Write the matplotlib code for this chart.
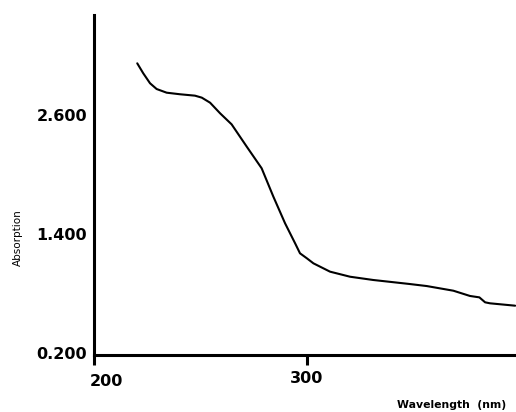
'''
UV-Vis absorption spectrum
'''

import numpy as np
import matplotlib
matplotlib.use('Agg')
import matplotlib.pyplot as plt
import matplotlib.transforms as mtransforms

# Data
wavelength = [220.3, 223.1, 226.3, 229.4, 234.1, 240.4, 247.4, 250.6, 254.5,
              259.2, 264.6, 271.7, 278.7, 284.2, 289.7, 294.4, 296.7, 299.9,
              303.0, 310.8, 320.2, 331.1, 348.0, 356.2, 368.7, 376.5, 380.9,
              383.6, 385.9, 397.7]
absorption = [3.120, 3.020, 2.919, 2.861, 2.824, 2.808, 2.794, 2.774, 2.723,
              2.616, 2.505, 2.280, 2.062, 1.776, 1.507, 1.306, 1.205, 1.155,
              1.104, 1.020, 0.969, 0.936, 0.896, 0.875, 0.828, 0.775, 0.761,
              0.711, 0.701, 0.677]
x_ticks = [200, 300]
y_ticks = [0.2, 1.4, 2.6]
y_tick_labels = ['0.200', '1.400', '2.600']

fig = plt.figure(figsize=(5.16, 4.12), dpi=100)
ax = fig.add_axes([94 / 516, 57 / 412, 422 / 516, 340 / 412])

ax.plot(wavelength, absorption, color='black', lw=1.5,
        solid_joinstyle='round', solid_capstyle='round')

ax.set_xlim(200, 398.1)
ax.set_ylim(0.18, 3.607)

for s in ['top', 'right']:
    ax.spines[s].set_visible(False)
for s in ['left', 'bottom']:
    ax.spines[s].set_linewidth(2.2)

ax.set_xticks(x_ticks)
ax.set_xticklabels([str(t) for t in x_ticks], fontsize=11.5, fontweight='bold')
ax.tick_params(axis='x', direction='out', length=7.5, width=2.2, pad=4)

ax.set_yticks(y_ticks)
ax.set_yticklabels(y_tick_labels, fontsize=11.5, fontweight='bold')
ax.tick_params(axis='y', length=0, pad=5)

# first x label sits a bit right of its tick in the original
lab0 = ax.get_xticklabels()[0]
lab0.set_transform(lab0.get_transform() +
                   mtransforms.ScaledTranslation(12 / 100, -3.5 / 100, fig.dpi_scale_trans))

fig.text(18 / 516, 1 - 238 / 412, 'Absorption', rotation=90, fontsize=7.5,
         ha='center', va='center')
fig.text(452 / 516, 1 - 405 / 412, 'Wavelength  (nm)', fontsize=7.8,
         fontweight='bold', ha='center', va='center')

fig.savefig('out.png', dpi=100)
